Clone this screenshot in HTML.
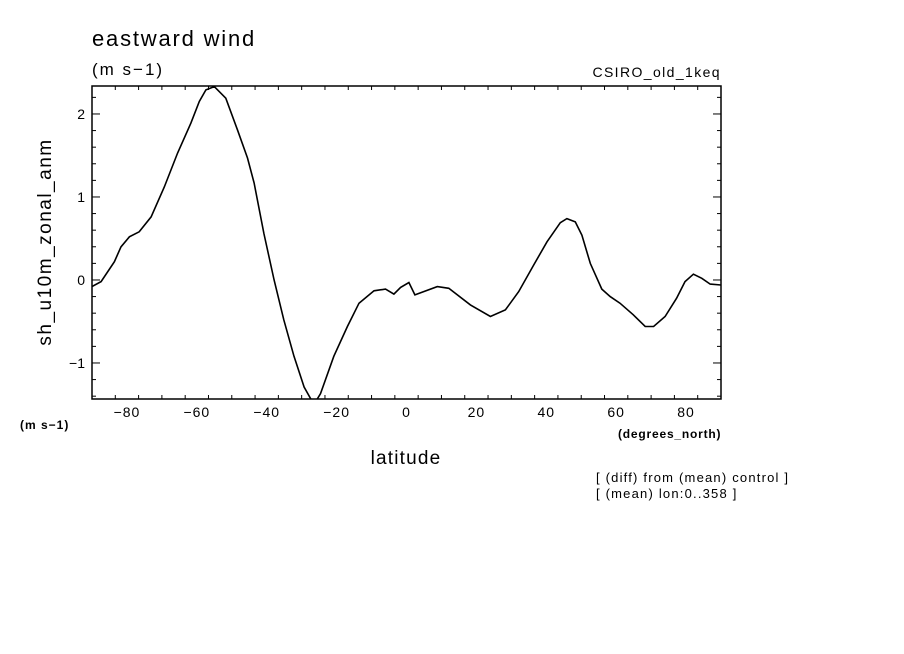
<!DOCTYPE html>
<html><head><meta charset="utf-8"><style>
html,body{margin:0;padding:0;background:#fff;}
svg{display:block;font-family:"Liberation Sans",sans-serif;}
</style></head><body>
<svg id="chart" width="904" height="654" viewBox="0 0 904 654">
<text x="92" y="46" font-size="22" letter-spacing="1.8">eastward wind</text>
<text x="92" y="75" font-size="17" letter-spacing="2">(m s−1)</text>
<text x="721" y="77" font-size="14" letter-spacing="1.4" text-anchor="end">CSIRO_old_1keq</text>
<text transform="translate(51,242) rotate(-90)" font-size="19" letter-spacing="1.5" text-anchor="middle">sh_u10m_zonal_anm</text>
<text x="20" y="429" font-size="12" font-weight="bold" letter-spacing="1">(m s−1)</text>
<text x="406" y="464" font-size="19" letter-spacing="1.2" text-anchor="middle">latitude</text>
<text x="618" y="438" font-size="12" font-weight="bold" letter-spacing="0.8">(degrees_north)</text>
<text x="596" y="482" font-size="13" letter-spacing="1.2">[ (diff) from (mean) control ]</text>
<text x="596" y="498" font-size="13" letter-spacing="1.2">[ (mean) lon:0..358 ]</text>
<g id="axes"></g>
<g id="plot"></g>
</svg>
<script>
const lats=[-90,-87.4,-83.6,-81.7,-79.3,-76.5,-73.1,-69.3,-65.5,-61.7,-59.3,-57.4,-55,-51.7,-48.4,-45.5,-43.6,-40.8,-37.9,-35.1,-32.2,-29.3,-26.5,-24.6,-20.8,-16.9,-13.6,-9.3,-6,-3.6,-1.7,0.7,2.4,8.8,12.1,18.3,24,28.3,32.1,36.4,40.2,44,45.9,48.3,50.2,52.6,55.9,58.3,61.1,64.9,68.3,70.7,74,77.3,79.7,82.1,84.5,86.9,90];
const values=[-0.08,-0.02,0.22,0.40,0.52,0.58,0.76,1.12,1.53,1.89,2.15,2.29,2.33,2.19,1.81,1.47,1.17,0.56,0,-0.48,-0.92,-1.29,-1.5,-1.37,-0.92,-0.56,-0.28,-0.13,-0.11,-0.17,-0.09,-0.03,-0.18,-0.08,-0.1,-0.30,-0.44,-0.36,-0.14,0.18,0.46,0.69,0.74,0.70,0.54,0.20,-0.11,-0.20,-0.28,-0.42,-0.56,-0.56,-0.44,-0.22,-0.02,0.07,0.02,-0.05,-0.06];
const xTicks=[-80,-60,-40,-20,0,20,40,60,80];
const yTicks=[-1,0,1,2];
const X0=92,X1=721,Y0=86,Y1=399;
const xMin=-90,xMax=90,yMin=-1.434,yMax=2.337;
const sx=v=>X0+(v-xMin)/(xMax-xMin)*(X1-X0);
const sy=v=>Y1-(v-yMin)/(yMax-yMin)*(Y1-Y0);
const NS="http://www.w3.org/2000/svg";
const axes=document.getElementById('axes'),plot=document.getElementById('plot');
function mk(tag,attrs,parent){const e=document.createElementNS(NS,tag);for(const k in attrs)e.setAttribute(k,attrs[k]);parent.appendChild(e);return e;}
const frame=mk('rect',{x:X0,y:Y0,width:X1-X0,height:Y1-Y0,fill:'none',stroke:'#000','stroke-width':1.5},axes);


for(let v=-90+20/3;v<90;v+=20/3){
  const major=Math.abs(Math.round(v)-v)<0.01&&Math.round(v)%20===0;
  const L=major?8:4,x=sx(v);
  mk('line',{x1:x,x2:x,y1:Y1,y2:Y1-L,stroke:'#000'},axes);
  mk('line',{x1:x,x2:x,y1:Y0,y2:Y0+L,stroke:'#000'},axes);
}
xTicks.forEach(v=>{
  const t=mk('text',{x:sx(v),y:Y1+18,'font-size':14,'letter-spacing':1,'text-anchor':'middle'},axes);
  t.textContent=v<0?'−'+Math.abs(v):String(v);
  
  
});
for(let i=-7;i<=11;i++){
  const v=i*0.2,major=i%5===0,L=major?8:4,y=sy(v);
  if(y<Y0||y>Y1)continue;
  mk('line',{x1:X0,x2:X0+L,y1:y,y2:y,stroke:'#000'},axes);
  mk('line',{x1:X1,x2:X1-L,y1:y,y2:y,stroke:'#000'},axes);
}
yTicks.forEach(v=>{
  const t=mk('text',{x:X0-7,y:sy(v)+5,'font-size':14,'text-anchor':'end'},axes);
  t.textContent=v<0?'−'+Math.abs(v):String(v);
  
  
});
mk('clipPath',{id:'clip'},plot);
mk('rect',{x:X0,y:Y0,width:X1-X0,height:Y1-Y0},document.getElementById('clip'));
const d=lats.map((la,i)=>(i?'L':'M')+sx(la).toFixed(1)+','+sy(values[i]).toFixed(1)).join(' ');
const p=mk('path',{d:d,fill:'none',stroke:'#000','stroke-width':1.6,'clip-path':'url(#clip)'},plot);


</script>
</body></html>
